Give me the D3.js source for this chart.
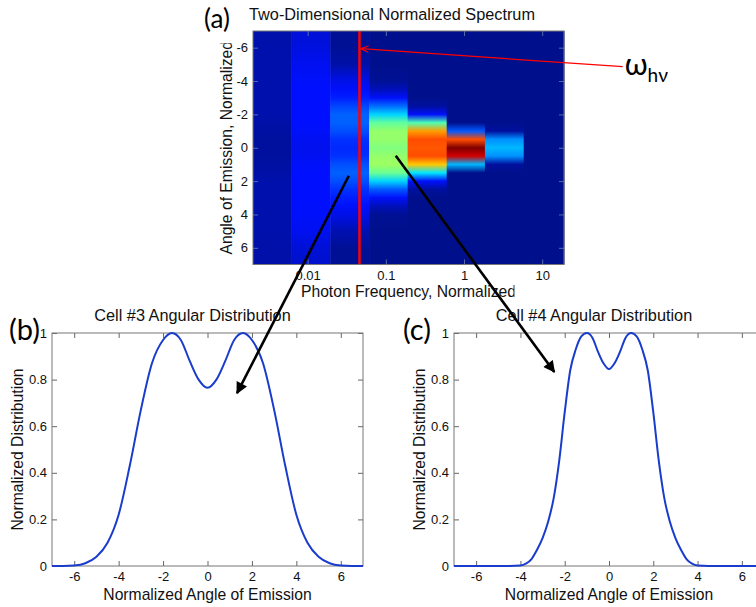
<!DOCTYPE html>
<html><head><meta charset="utf-8">
<script src="https://cdn.jsdelivr.net/npm/d3@7"></script>
<style>body{margin:0;background:#fff}svg{display:block}</style>
</head><body>
<script>
// ---------- data ----------
const freqEdges = [0.002, 0.0062, 0.0195, 0.061, 0.19, 0.6, 1.85, 5.8, 19];   // cell boundaries (photon frequency)
const angleSamples = [-7,-6,-5,-4,-3.5,-3,-2.5,-2,-1.5,-1,-0.5,0,0.5,1,1.5,2,2.5,3,3.5,4,5,6,7];
const cell1 = [0.03,0.035,0.035,0.035,0.035,0.035,0.035,0.035,0.03,0.025,0.02,0.02,0.02,0.025,0.03,0.035,0.035,0.035,0.035,0.035,0.035,0.03,0.03];
const cell2 = [0.08,0.09,0.11,0.12,0.125,0.125,0.125,0.125,0.125,0.12,0.11,0.105,0.11,0.12,0.125,0.125,0.125,0.125,0.12,0.12,0.11,0.08,0.07];
const cell3 = [0.01,0.01,0.03,0.1,0.12,0.14,0.18,0.21,0.21,0.19,0.16,0.15,0.16,0.19,0.21,0.19,0.16,0.14,0.12,0.1,0.04,0.01,0.01];
const cell4 = [0,0,0,0.01,0.05,0.12,0.22,0.33,0.47,0.52,0.52,0.5,0.52,0.53,0.48,0.33,0.2,0.12,0.05,0.01,0,0,0];
const cell5 = [0,0,0,0,0,0,0.02,0.12,0.45,0.72,0.8,0.79,0.8,0.68,0.35,0.12,0.02,0,0,0,0,0,0];
const cell6 = [0,0,0,0,0,0,0,0,0,0.2,0.8,1.0,0.92,0.3,0,0,0,0,0,0,0,0,0];
const cell7 = [0,0,0,0,0,0,0,0,0,0.02,0.26,0.3,0.26,0.02,0,0,0,0,0,0,0,0,0];
const cell8 = [0,0,0,0,0,0,0,0,0,0,0,0,0,0,0,0,0,0,0,0,0,0,0];
const cells = [cell1,cell2,cell3,cell4,cell5,cell6,cell7,cell8];
const omegaHv = 0.046;   // red marker frequency

const heatXTicks = [0.01, 0.1, 1, 10];
const heatXTickLabels = ["0.01", "0.1", "1", "10"];
const angleTicks = [-6,-4,-2,0,2,4,6];
const distTicks = [0,0.2,0.4,0.6,0.8,1];
const distTickLabels = ["0","0.2","0.4","0.6","0.8","1"];

const cell3Angle = [-7,-6.5,-6,-5.5,-5,-4.5,-4,-3.5,-3,-2.5,-2,-1.6,-1.2,-0.8,-0.4,0,0.4,0.8,1.2,1.6,2,2.5,3,3.5,4,4.5,5,5.5,6,6.5,7];
const cell3Dist  = [0,0,0.002,0.012,0.04,0.1,0.22,0.43,0.67,0.87,0.97,1.0,0.97,0.88,0.8,0.765,0.8,0.88,0.97,1.0,0.97,0.87,0.67,0.43,0.22,0.1,0.04,0.012,0.002,0,0];
const cell4Angle = [-7,-5,-4.5,-4,-3.75,-3.5,-3.25,-3,-2.75,-2.5,-2.25,-2,-1.75,-1.5,-1.25,-1,-0.75,-0.5,-0.25,0,0.25,0.5,0.75,1,1.25,1.5,1.75,2,2.25,2.5,2.75,3,3.25,3.5,3.75,4,4.5,5,7];
const cell4Dist  = [0,0,0,0.002,0.01,0.03,0.07,0.12,0.19,0.29,0.45,0.66,0.84,0.93,0.985,1.0,0.98,0.92,0.87,0.845,0.87,0.92,0.98,1.0,0.985,0.93,0.84,0.66,0.45,0.29,0.19,0.12,0.07,0.03,0.01,0.002,0,0,0];

// ---------- setup ----------
const W = 756, H = 607;
const svg = d3.select("body").append("svg").attr("width", W).attr("height", H);
const defs = svg.append("defs");
const FONT = "'Liberation Sans', Arial, Helvetica, sans-serif";
const LABFONT = "Lato, 'Open Sans', sans-serif";

const jet = d3.scaleLinear()
  .domain([0, 0.125, 0.375, 0.625, 0.875, 1])
  .range(["#00108c", "#0010ff", "#00ffff", "#ffff00", "#ff0000", "#800000"])
  .clamp(true);

// ---------- panel (a) heatmap ----------
const hx = d3.scaleLog().domain([0.002, 19]).range([253, 564]);
const hy = d3.scaleLinear().domain([-7, 7]).range([31, 264.5]);

cells.forEach((vals, i) => {
  const id = "g" + i;
  const g = defs.append("linearGradient").attr("id", id)
    .attr("gradientUnits", "userSpaceOnUse")
    .attr("x1", 0).attr("x2", 0).attr("y1", hy(-7)).attr("y2", hy(7));
  angleSamples.forEach((a, k) => {
    g.append("stop").attr("offset", (a + 7) / 14).attr("stop-color", jet(vals[k]));
  });
  svg.append("rect")
    .attr("x", hx(freqEdges[i])).attr("y", hy(-7))
    .attr("width", hx(freqEdges[i + 1]) - hx(freqEdges[i]) + 0.5)
    .attr("height", hy(7) - hy(-7))
    .attr("fill", `url(#${id})`);
});

// red omega line
svg.append("line")
  .attr("x1", hx(omegaHv)).attr("x2", hx(omegaHv))
  .attr("y1", hy(-7)).attr("y2", hy(7))
  .attr("stroke", "#ff0000").attr("stroke-width", 2.5);

function styleAxis(g, fontSize, tickColor) {
  g.select(".domain").remove();
  g.selectAll(".tick line").attr("stroke", tickColor);
  g.selectAll("text").attr("font-family", FONT).attr("font-size", fontSize).attr("fill", "#111");
}

function frameAxes(x, y, xTicks, xLabels, yTicks, yLabels, tickColor) {
  const x0 = Math.min(...x.range()), x1 = Math.max(...x.range());
  const yBot = Math.max(...y.range()), yTop = Math.min(...y.range());
  const gb = svg.append("g").attr("transform", `translate(0,${yBot})`)
    .call(d3.axisBottom(x).tickValues(xTicks).tickFormat((d, i) => xLabels[i]).tickSizeInner(-5).tickSizeOuter(0).tickPadding(6));
  styleAxis(gb, 13, tickColor);
  const gt = svg.append("g").attr("transform", `translate(0,${yTop})`)
    .call(d3.axisTop(x).tickValues(xTicks).tickFormat("").tickSizeInner(-5).tickSizeOuter(0));
  styleAxis(gt, 13, tickColor);
  const gl = svg.append("g").attr("transform", `translate(${x0},0)`)
    .call(d3.axisLeft(y).tickValues(yTicks).tickFormat((d, i) => yLabels[i]).tickSizeInner(-5).tickSizeOuter(0).tickPadding(5));
  styleAxis(gl, 13, tickColor);
  const gr = svg.append("g").attr("transform", `translate(${x1},0)`)
    .call(d3.axisRight(y).tickValues(yTicks).tickFormat("").tickSizeInner(-5).tickSizeOuter(0));
  styleAxis(gr, 13, tickColor);
  svg.append("rect").attr("x", x0).attr("y", yTop).attr("width", x1 - x0).attr("height", yBot - yTop)
    .attr("fill", "none").attr("stroke", "#777").attr("stroke-width", 1);
}

frameAxes(hx, hy, heatXTicks, heatXTickLabels, angleTicks, angleTicks.map(String), "#5a6aa8");

// titles / labels panel (a)
svg.append("text").attr("x", 392).attr("y", 20).attr("text-anchor", "middle")
  .attr("font-family", FONT).attr("font-size", 16.3).attr("fill", "#111")
  .text("Two-Dimensional Normalized Spectrum");
defs.append("clipPath").attr("id", "clipX").append("rect").attr("x", 250).attr("y", 280).attr("width", 264.5).attr("height", 30);
svg.append("text").attr("x", 408.5).attr("y", 297).attr("text-anchor", "middle")
  .attr("clip-path", "url(#clipX)")
  .attr("font-family", FONT).attr("font-size", 15.7).attr("fill", "#111")
  .text("Photon Frequency, Normalized");
defs.append("clipPath").attr("id", "clipY").append("rect").attr("x", 205).attr("y", 43.3).attr("width", 40).attr("height", 230);
svg.append("g").attr("clip-path", "url(#clipY)")
  .append("text").attr("transform", `translate(232,${(hy(-7) + hy(7)) / 2}) rotate(-90)`)
  .attr("text-anchor", "middle")
  .attr("font-family", FONT).attr("font-size", 15.7).attr("fill", "#111")
  .text("Angle of Emission, Normalized");
svg.append("text").attr("x", 204).attr("y", 28).attr("font-family", LABFONT).attr("font-size", 26).attr("fill", "#000").text("(a)");

// ---------- panels (b) and (c) ----------
const bx = d3.scaleLinear().domain([-7, 7]).range([52, 363]);
const by = d3.scaleLinear().domain([0, 1]).range([566, 333]);
const cx = d3.scaleLinear().domain([-7, 7]).range([454, 764]);
const cy = d3.scaleLinear().domain([0, 1]).range([566, 333]);

function distPanel(x, y, angles, dist, title, tag, tagX, ylabX) {
  frameAxes(x, y, angleTicks, angleTicks.map(String), distTicks, distTickLabels, "#666");
  const line = d3.line().x((d, i) => x(angles[i])).y(d => y(d)).curve(d3.curveMonotoneX);
  svg.append("path").attr("d", line(dist)).attr("fill", "none")
    .attr("stroke", "#1a3ccc").attr("stroke-width", 2);
  svg.append("text").attr("x", x(0) - 15).attr("y", 321).attr("text-anchor", "middle")
    .attr("font-family", FONT).attr("font-size", 16.3).attr("fill", "#111").text(title);
  svg.append("text").attr("x", x(0)).attr("y", 600).attr("text-anchor", "middle")
    .attr("font-family", FONT).attr("font-size", 15.7).attr("fill", "#111").text("Normalized Angle of Emission");
  svg.append("text").attr("transform", `translate(${ylabX},${(y.range()[0] + y.range()[1]) / 2}) rotate(-90)`)
    .attr("text-anchor", "middle")
    .attr("font-family", FONT).attr("font-size", 15.7).attr("fill", "#111").text("Normalized Distribution");
  svg.append("text").attr("x", tagX).attr("y", 340).attr("font-family", LABFONT).attr("font-size", 29).attr("fill", "#000").text(tag);
}
distPanel(bx, by, cell3Angle, cell3Dist, "Cell #3 Angular Distribution", "(b)", 9, 23);
distPanel(cx, cy, cell4Angle, cell4Dist, "Cell #4 Angular Distribution", "(c)", 403, 425);

// ---------- annotations ----------
defs.append("marker").attr("id", "arrBlack").attr("viewBox", "0 0 10 10").attr("refX", 9).attr("refY", 5)
  .attr("markerWidth", 5).attr("markerHeight", 4.5).attr("orient", "auto").attr("markerUnits", "strokeWidth")
  .append("path").attr("d", "M0,0 L10,5 L0,10 z").attr("fill", "#000");
defs.append("marker").attr("id", "arrRed").attr("viewBox", "0 0 10 10").attr("refX", 9).attr("refY", 5)
  .attr("markerWidth", 7).attr("markerHeight", 6).attr("orient", "auto").attr("markerUnits", "strokeWidth")
  .append("path").attr("d", "M0,1 L10,5 L0,9").attr("fill", "none").attr("stroke", "#ff0000").attr("stroke-width", 1.5);

// arrows: heatmap cell -> panel
const arrowToB = { fromF: 0.0336, fromA: 1.68, toAngle: 1.33, toDist: 0.742 };
const arrowToC = { fromF: 0.134, fromA: 0.48, toAngle: -2.47, toDist: 0.833 };
const redArrow = { fromF: 107, fromA: -4.86, toF: omegaHv, toA: -5.94 };

svg.append("line")
  .attr("x1", hx(arrowToB.fromF)).attr("y1", hy(arrowToB.fromA))
  .attr("x2", bx(arrowToB.toAngle)).attr("y2", by(arrowToB.toDist))
  .attr("stroke", "#000").attr("stroke-width", 2.6).attr("marker-end", "url(#arrBlack)");
svg.append("line")
  .attr("x1", hx(arrowToC.fromF)).attr("y1", hy(arrowToC.fromA))
  .attr("x2", cx(arrowToC.toAngle)).attr("y2", cy(arrowToC.toDist))
  .attr("stroke", "#000").attr("stroke-width", 2.6).attr("marker-end", "url(#arrBlack)");
svg.append("line")
  .attr("x1", hx(redArrow.fromF)).attr("y1", hy(redArrow.fromA))
  .attr("x2", hx(redArrow.toF) + 2).attr("y2", hy(redArrow.toA))
  .attr("stroke", "#ff0000").attr("stroke-width", 1.3).attr("marker-end", "url(#arrRed)");

const om = svg.append("text").attr("x", hx(redArrow.fromF) + 2).attr("y", 75)
  .attr("font-family", LABFONT).attr("fill", "#000");
om.append("tspan").attr("font-size", 30).text("ω");
om.append("tspan").attr("font-size", 19).attr("dy", 7).text("hν");
</script>
</body></html>
